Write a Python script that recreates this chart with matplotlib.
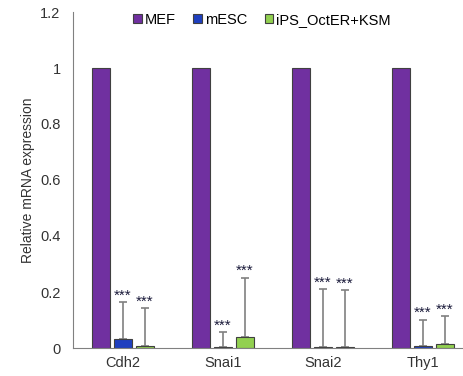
import matplotlib.pyplot as plt
import numpy as np

plt.rcParams['font.family'] = ['Liberation Sans', 'DejaVu Sans']

genes = ['Cdh2', 'Snai1', 'Snai2', 'Thy1']
series = ['MEF', 'mESC', 'iPS_OctER+KSM']
mef = [1.0, 1.0, 1.0, 1.0]
mesc = [0.032, 0.005, 0.004, 0.008]
ips = [0.007, 0.039, 0.002, 0.013]
mesc_err = [0.133, 0.051, 0.206, 0.093]
ips_err = [0.135, 0.212, 0.204, 0.101]
colors = ['#7030A0', '#1F3FBF', '#92D050']

fig = plt.figure(figsize=(4.63, 3.76), dpi=100)
ax = fig.add_axes([73 / 463, 1 - 348 / 376, 400 / 463, 336 / 376])

x = np.arange(len(genes))
w = 0.18
off = 0.22
vals = [mef, mesc, ips]
errs = [None, mesc_err, ips_err]
for k in range(3):
    pos = x + (k - 1) * off
    ax.bar(pos, vals[k], width=w, color=colors[k], edgecolor='#404040', linewidth=0.8,
           label=series[k], zorder=2)
    if errs[k] is not None:
        ax.errorbar(pos, vals[k], yerr=[np.zeros(4), errs[k]], fmt='none', ecolor='#808080',
                    elinewidth=1.2, capsize=3, capthick=1.2, zorder=1)
        for p, v, e in zip(pos, vals[k], errs[k]):
            ax.text(p, v + e - 0.002, '***', ha='center', va='bottom', fontsize=11,
                    color='#1a1a3a')

ax.set_xlim(-0.5, 3.5)
ax.set_ylim(0, 1.2)
ax.set_yticks([0, 0.2, 0.4, 0.6, 0.8, 1, 1.2])
ax.set_yticklabels(['0', '0.2', '0.4', '0.6', '0.8', '1', '1.2'])
ax.set_xticks(x)
ax.set_xticklabels(genes)
ax.tick_params(axis='both', length=0, labelsize=10.5, colors='#333333')
ax.tick_params(axis='y', pad=9)
ax.tick_params(axis='x', pad=6)
for s in ['top', 'right']:
    ax.spines[s].set_visible(False)
for s in ['left', 'bottom']:
    ax.spines[s].set_color('#808080')
ax.set_ylabel('Relative mRNA expression', fontsize=10, color='#333333', labelpad=4)

leg = fig.legend(loc='center', bbox_to_anchor=(262 / 463, 1 - 20 / 376), ncol=3, frameon=False,
                 fontsize=10.5, handlelength=0.6, handleheight=0.6, handletextpad=0.2,
                 columnspacing=1.2)

fig.savefig('out.png', dpi=100)
